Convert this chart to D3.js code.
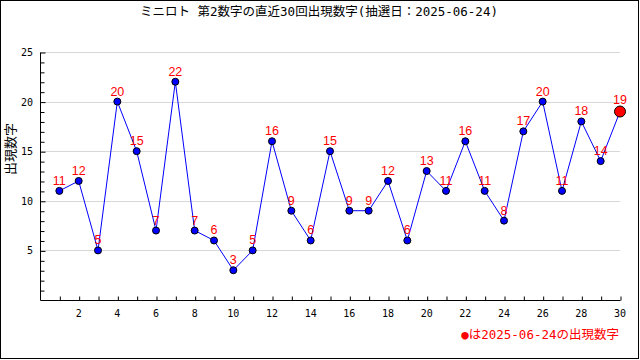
<!DOCTYPE html>
<html><head><meta charset="utf-8">
<script src="https://cdn.jsdelivr.net/npm/d3@7"></script>
<style>body{margin:0;background:#fff}svg{display:block}</style>
</head><body>
<svg id="c" width="640" height="360"></svg>
<script>
const draws = [1,2,3,4,5,6,7,8,9,10,11,12,13,14,15,16,17,18,19,20,21,22,23,24,25,26,27,28,29,30];
const values = [11,12,5,20,15,7,22,7,6,3,5,16,9,6,15,9,9,12,6,13,11,16,11,8,17,20,11,18,14,19];
const xTickLabels = [2,4,6,8,10,12,14,16,18,20,22,24,26,28,30];
const yTickLabels = [5,10,15,20,25];
const title = "ミニロト 第2数字の直近30回出現数字(抽選日：2025-06-24)";
const yTitle = "出現数字";
const legendText = "●は2025-06-24の出現数字";

const svg = d3.select("#c");
const mono = "'DejaVu Sans Mono','Noto Sans CJK JP',monospace";
const x = d3.scaleLinear().domain([0,30]).range([40,620]);
const y = d3.scaleLinear().domain([0,25]).range([300,52]);

svg.append("rect").attr("x",0.5).attr("y",0.5).attr("width",638).attr("height",358)
  .attr("fill","#fff").attr("stroke","#000");

svg.append("text").attr("x",319).attr("y",16).attr("text-anchor","middle")
  .attr("font-family",mono).attr("font-size",12.5).text(title);

// grid
svg.append("g").selectAll("line").data(yTickLabels).join("line")
  .attr("x1",x(0)).attr("x2",x(30)).attr("y1",d=>Math.round(y(d))+0.5).attr("y2",d=>Math.round(y(d))+0.5)
  .attr("stroke","#d8d8d8");

// y axis
const ya = svg.append("g").attr("transform",`translate(${x(0)+0.5},0.5)`)
  .call(d3.axisRight(y).tickValues(d3.range(1,26)).tickSize(4).tickFormat(""));
ya.select(".domain").attr("d",`M0,${y(25)}V${y(0)}`);
ya.selectAll(".tick line").attr("x2",d=>d%5===0?5:4);
svg.append("g").selectAll("text").data(yTickLabels).join("text")
  .attr("x",33).attr("y",d=>y(d)+4).attr("text-anchor","end")
  .attr("font-family",mono).attr("font-size",10).text(d=>d);

// x axis
const xa = svg.append("g").attr("transform",`translate(0.5,${y(0)+0.5})`)
  .call(d3.axisTop(x).tickValues(d3.range(1,31)).tickSize(4).tickFormat(""));
xa.select(".domain").attr("d",`M${x(0)},0H${x(30)}`);
svg.append("g").selectAll("text").data(xTickLabels).join("text")
  .attr("x",d=>x(d)).attr("y",317).attr("text-anchor","middle")
  .attr("font-family",mono).attr("font-size",10).text(d=>d);

// y title
svg.append("text").attr("transform","translate(15,149) rotate(-90)").attr("text-anchor","middle")
  .attr("font-family","'Noto Sans CJK JP',sans-serif").attr("font-size",13).text(yTitle);

// line
const pts = draws.map((d,i)=>({d,v:values[i]}));
svg.append("path").datum(pts).attr("fill","none").attr("stroke","#0000ff").attr("stroke-width",1)
  .attr("d",d3.line().x(p=>x(p.d)).y(p=>y(p.v)));

svg.append("g").selectAll("circle").data(pts).join("circle")
  .attr("cx",p=>x(p.d)).attr("cy",p=>y(p.v))
  .attr("r",(p,i)=>i===pts.length-1?5.5:3.5)
  .attr("fill",(p,i)=>i===pts.length-1?"#ff0000":"#0000ff").attr("stroke","#000").attr("stroke-width",1);

svg.append("g").selectAll("text").data(pts).join("text")
  .attr("x",p=>x(p.d)).attr("y",(p,i)=>y(p.v)-(i===pts.length-1?8:6)).attr("text-anchor","middle")
  .attr("font-family","'Liberation Sans',Arial,sans-serif").attr("font-size",12.5).attr("fill","#ff0000")
  .text(p=>p.v);

svg.append("text").attr("x",619).attr("y",338.5).attr("text-anchor","end")
  .attr("font-family",mono).attr("font-size",12.5).attr("fill","#ff0000").text(legendText);
</script>
</body></html>
